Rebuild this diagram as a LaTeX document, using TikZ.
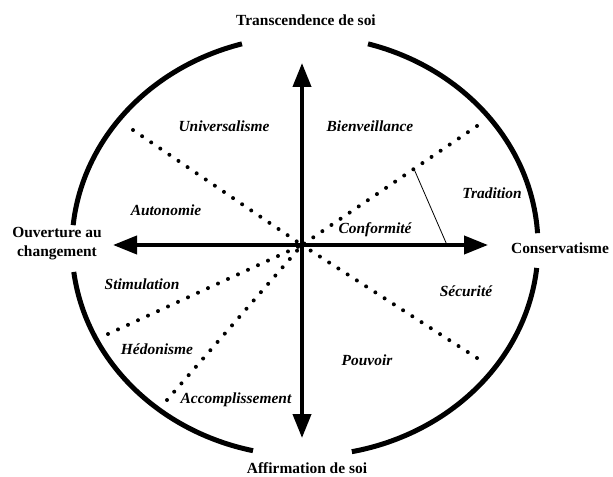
\documentclass[tikz,border=0pt]{standalone}
\usepackage{fontspec}
\setmainfont{Liberation Serif}
\usetikzlibrary{arrows.meta}
\begin{document}
\begin{tikzpicture}[x=1bp,y=-1bp,
  axis/.style={line width=4bp, {Triangle[length=24bp,width=18bp]}-{Triangle[length=24bp,width=18bp]}},
  rim/.style={line width=5bp},
  dots/.style={line width=4bp, line cap=round, dash pattern=on 0bp off 11bp},
  pointer/.style={line width=0.8bp},
  pole/.style={font=\fontsize{15.5}{19}\selectfont\bfseries, align=center, inner sep=0pt},
  value/.style={font=\fontsize{15.5}{19}\selectfont\bfseries\itshape, inner sep=0pt}]
\useasboundingbox (0,0) rectangle (613,477);
% centre and ends
\coordinate (c) at (302,245);
\coordinate (top) at (302,63);
\coordinate (bot) at (302,438);
\coordinate (lft) at (113,245);
\coordinate (rgt) at (488,245);
\coordinate (ul) at (133,130);
\coordinate (ur) at (477,126);
\coordinate (lr) at (477,358);
\coordinate (ll) at (108,334);
\coordinate (lb) at (167,400);
\coordinate (p1) at (414,169);
\coordinate (p2) at (447,245);
% ellipse arcs
\draw[rim] (305,246) ++(-74.3:233 and 210) arc[start angle=-74.3, end angle=-3.5, x radius=233, y radius=210];
\draw[rim] (305,246) ++(6.0:233 and 210) arc[start angle=6.0, end angle=78.4, x radius=233, y radius=210];
\draw[rim] (305,246) ++(102.9:233 and 210) arc[start angle=102.9, end angle=172.9, x radius=233, y radius=210];
\draw[rim] (305,246) ++(185.7:233 and 210) arc[start angle=185.7, end angle=254.3, x radius=233, y radius=210];
% dotted dividers
\draw[dots] (ul) -- (c);
\draw[dots] (ur) -- (c);
\draw[dots] (lr) -- (c);
\draw[dots] (ll) -- (c);
\draw[dots] (lb) -- (c);
% axes
\draw[axis] (top) -- (bot);
\draw[axis] (lft) -- (rgt);
% pointer
\draw[pointer] (p1) -- (p2);
% poles
\node[pole] (trans) at (306,20) {Transcendence de soi};
\node[pole] (affirm) at (307,468) {Affirmation de soi};
\node[pole] (ouv) at (57,244) {Ouverture au\\changement};
\node[pole] (cons) at (560,248) {Conservatisme};
% values
\node[value] (univ) at (224,126) {Universalisme};
\node[value] (bien) at (370,126) {Bienveillance};
\node[value] (trad) at (492,193) {Tradition};
\node[value] (conf) at (375,230) {Conformité};
\node[value] (secu) at (466,291) {Sécurité};
\node[value] (auto) at (166,210) {Autonomie};
\node[value] (stim) at (142,284) {Stimulation};
\node[value] (hedo) at (157,349) {Hédonisme};
\node[value] (acco) at (236,400) {Accomplissement};
\node[value] (pouv) at (367,360) {Pouvoir};
\end{tikzpicture}
\end{document}
